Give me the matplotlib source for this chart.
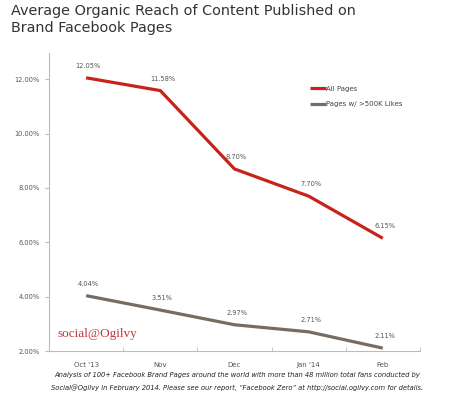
import matplotlib.pyplot as plt

# data
months = ["Oct '13", "Nov", "Dec", "Jan '14", "Feb"]
all_pages = [12.05, 11.58, 8.70, 7.70, 6.15]
big_pages = [4.04, 3.51, 2.97, 2.71, 2.11]
yticks = [2, 4, 6, 8, 10, 12]

red = '#c8231a'
grey = '#776c62'
txt = '#555555'

fig = plt.figure(figsize=(4.5, 4.05), dpi=100)
ax = fig.add_axes([0.109, 0.133, 0.824, 0.736])

x = list(range(len(months)))
ax.plot(x, all_pages, color=red, lw=2.3, solid_capstyle='butt', label='All Pages')
ax.plot(x, big_pages, color=grey, lw=2.3, solid_capstyle='butt', label='Pages w/ >500K Likes')

for xi, v in zip(x, all_pages):
    ax.annotate(f'{v:.2f}%', (xi, v), xytext=(1.5, 6.5), textcoords='offset points',
                ha='center', va='bottom', fontsize=4.8, color=txt)
for xi, v in zip(x, big_pages):
    ax.annotate(f'{v:.2f}%', (xi, v), xytext=(1.5, 6.5), textcoords='offset points',
                ha='center', va='bottom', fontsize=4.8, color=txt)

ax.set_xlim(-0.5, len(months) - 0.5)
ax.set_ylim(2, 12.96)
ax.set_yticks(yticks)
ax.set_yticklabels([f'{t:.2f}%' for t in yticks])
ax.set_xticks(x)
ax.set_xticklabels(months)
ax.set_xticks([i - 0.5 for i in range(len(months) + 1)], minor=True)
ax.tick_params(axis='x', which='major', length=0, pad=8, labelsize=5, labelcolor=txt)
ax.tick_params(axis='x', which='minor', length=3, color='#bbbbbb', direction='in')
ax.tick_params(axis='y', length=3, color='#bbbbbb', labelsize=4.8, labelcolor=txt, pad=3.5)
for s in ['top', 'right']:
    ax.spines[s].set_visible(False)
for s in ['left', 'bottom']:
    ax.spines[s].set_color('#bbbbbb')
    ax.spines[s].set_linewidth(0.8)

ax.legend(loc='upper left', bbox_to_anchor=(0.695, 0.9), frameon=False, fontsize=5,
          handlelength=2.3, handletextpad=0.1, labelspacing=1.4, labelcolor='#444444',
          borderaxespad=0)

ax.text(0.024, 0.047, 'social@Ogilvy', transform=ax.transAxes, color='#c4393a',
        fontsize=9.5, family='Liberation Serif', va='baseline')

fig.text(0.024, 0.99, 'Average Organic Reach of Content Published on\nBrand Facebook Pages',
         ha='left', va='top', fontsize=10.4, color='#333333', linespacing=1.28)

fig.text(0.527, 0.058, 'Analysis of 100+ Facebook Brand Pages around the world with more than 48 million total fans conducted by\n'
         'Social@Ogilvy in February 2014. Please see our report, \u201cFacebook Zero\u201d at http://social.ogilvy.com for details.',
         ha='center', va='center', fontsize=4.9, style='italic', color='#222222', linespacing=2.0)

fig.savefig('out.png', dpi=100)
